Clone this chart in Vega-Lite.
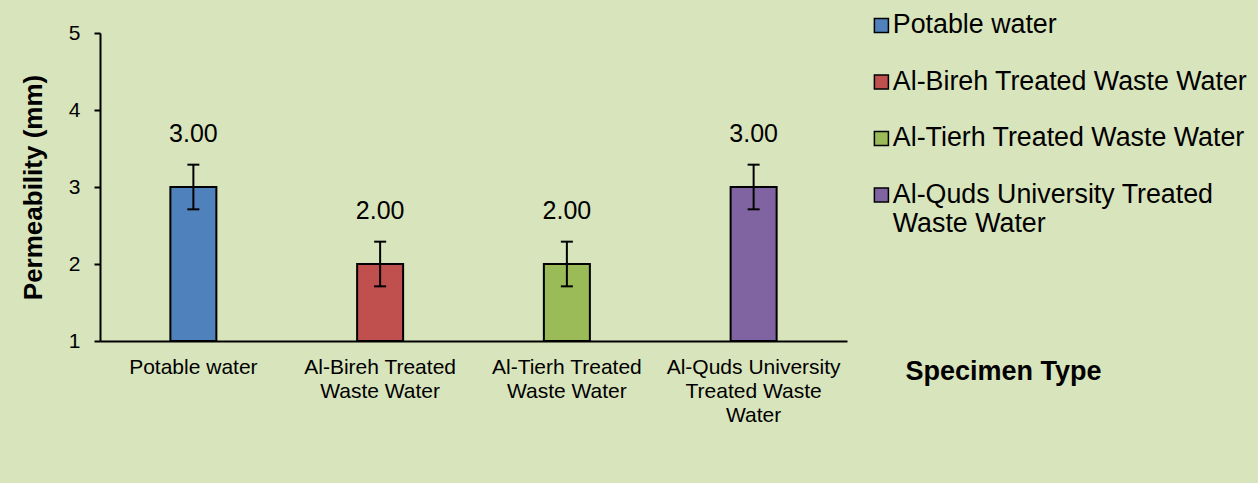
{
  "$schema": "https://vega.github.io/schema/vega-lite/v6.json",
  "width": 747,
  "height": 308,
  "autosize": {"type": "none"},
  "padding": {"left": 100, "top": 33, "right": 411, "bottom": 142},
  "background": "#d8e4bc",
  "config": {
    "view": {"stroke": null},
    "font": "Liberation Sans",
    "axis": {"labelColor": "black", "titleColor": "black", "domainColor": "black", "domainWidth": 2, "tickColor": "black", "tickWidth": 2, "grid": false, "labelFont": "Liberation Sans", "titleFont": "Liberation Sans"},
    "legend": {"labelFont": "Liberation Sans", "labelColor": "black"}
  },
  "data": {
    "values": [
      {"specimen": "Potable water", "permeability": 3, "lo": 2.71, "hi": 3.29},
      {"specimen": "Al-Bireh Treated Waste Water", "permeability": 2, "lo": 1.71, "hi": 2.29},
      {"specimen": "Al-Tierh Treated Waste Water", "permeability": 2, "lo": 1.71, "hi": 2.29},
      {"specimen": "Al-Quds University Treated Waste Water", "permeability": 3, "lo": 2.71, "hi": 3.29}
    ]
  },
  "encoding": {
    "x": {
      "field": "specimen", "type": "nominal", "sort": null,
      "scale": {"paddingInner": 0, "paddingOuter": 0},
      "axis": {
        "labelAngle": 0, "ticks": false, "labelFontSize": 21, "labelPadding": 15, "labelLineHeight": 24,
        "labelBaseline": "top",
        "labelExpr": "datum.value == 'Potable water' ? 'Potable water' : datum.value == 'Al-Quds University Treated Waste Water' ? ['Al-Quds University', 'Treated Waste', 'Water'] : [replace(datum.value, ' Waste Water', ''), 'Waste Water']",
        "title": "Specimen Type", "titleFontSize": 27, "titleFontWeight": "bold",
        "titleX": 903, "titleY": 38, "titleBaseline": "alphabetic", "titleAlign": "center"
      }
    }
  },
  "layer": [
    {
      "mark": {"type": "bar", "width": 46, "stroke": "black", "strokeWidth": 2},
      "encoding": {
        "y": {
          "field": "permeability", "type": "quantitative",
          "scale": {"domain": [1, 5], "nice": false, "zero": false},
          "axis": {
            "values": [1, 2, 3, 4, 5], "format": "d", "tickSize": 6, "labelFontSize": 21, "labelPadding": 14,
            "title": "Permeability (mm)", "titleFontSize": 26, "titleFontWeight": "bold",
            "titleX": -67, "titleY": 154, "titleAngle": -90, "titleBaseline": "middle", "titleAlign": "center"
          }
        },
        "y2": {"datum": 1},
        "color": {
          "field": "specimen", "type": "nominal", "sort": null,
          "scale": {
            "domain": ["Potable water", "Al-Bireh Treated Waste Water", "Al-Tierh Treated Waste Water", "Al-Quds University Treated Waste Water"],
            "range": ["#4f81bd", "#c0504d", "#9bbb59", "#8064a2"]
          },
          "legend": {
            "orient": "none", "legendX": 768, "legendY": -21, "title": null, "padding": 0,
            "symbolType": "square", "symbolSize": 196, "symbolStrokeColor": "black", "symbolStrokeWidth": 1.5, "symbolOpacity": 1,
            "labelFontSize": 26.8, "labelLimit": 420, "rowPadding": 28.5, "labelOffset": -2, "labelLineHeight": 29,
            "labelExpr": "datum.value == 'Al-Quds University Treated Waste Water' ? ['Al-Quds University Treated', 'Waste Water'] : datum.label"
          }
        }
      }
    },
    {
      "mark": {"type": "rule", "strokeWidth": 2, "color": "black"},
      "encoding": {"y": {"field": "lo", "type": "quantitative"}, "y2": {"field": "hi"}}
    },
    {
      "mark": {"type": "tick", "size": 12, "thickness": 2, "color": "black", "orient": "horizontal", "opacity": 1},
      "encoding": {"y": {"field": "lo", "type": "quantitative"}}
    },
    {
      "mark": {"type": "tick", "size": 12, "thickness": 2, "color": "black", "orient": "horizontal", "opacity": 1},
      "encoding": {"y": {"field": "hi", "type": "quantitative"}}
    },
    {
      "mark": {"type": "text", "dy": -53, "fontSize": 25, "baseline": "middle", "color": "black"},
      "encoding": {
        "y": {"field": "permeability", "type": "quantitative"},
        "text": {"field": "permeability", "type": "quantitative", "format": ".2f"}
      }
    }
  ]
}
